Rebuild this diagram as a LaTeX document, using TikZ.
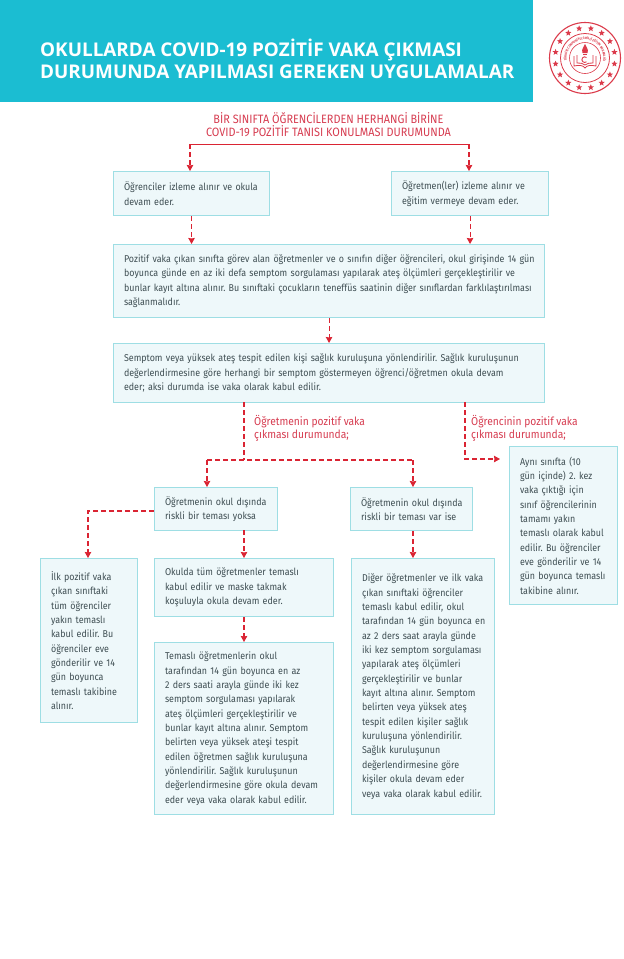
\documentclass[tikz,border=0pt]{standalone}
\usepackage{fontspec}
\usetikzlibrary{arrows.meta,calc,shapes.geometric,decorations.text}
\setmainfont[FakeStretch=0.90]{Fira Sans}
\newfontfamily\headfont{Open Sans}
\definecolor{headcol}{HTML}{1BBDD2}
\definecolor{edgecol}{HTML}{9EDEE4}
\definecolor{fillcol}{HTML}{EEF8FA}
\definecolor{bodycol}{HTML}{3F4E53}
\definecolor{redtext}{HTML}{D63C50}
\definecolor{redline}{HTML}{DA2433}
\definecolor{logocol}{HTML}{DB3A4A}
\frenchspacing
\tikzset{
  x=1pt,y=1pt,
  infobox/.style={draw=edgecol,fill=fillcol,line width=1.1pt,anchor=north west,inner xsep=10.5pt,inner ysep=0pt,
    align=left,font=\fontsize{9.9}{14.35}\selectfont,text=bodycol,text width=#1-21pt,
    execute at begin node={\rightskip=-15pt plus 1fil\relax}},
  redlabel/.style={text=redtext,align=left,anchor=north west,inner sep=0pt,font=\fontsize{11.4}{13}\selectfont},
  dashline/.style={draw=redline,line width=1.1pt,dash pattern=on 5pt off 3pt},
  flowarrow/.style={dashline,-{Stealth[length=6pt,width=6.5pt,inset=0.5pt]}},
  solidline/.style={draw=redline,line width=0.8pt},
  logoline/.style={draw=logocol,line width=0.8pt},
  logostar/.style={star,star points=5,star point ratio=2.3,fill=logocol,inner sep=0pt,minimum size=6.5pt},
}
\begin{document}
\begin{tikzpicture}
\useasboundingbox (0,0) rectangle (624,-959);
% header
\fill[headcol] (0,0) rectangle (533,-102);
\node[anchor=west,inner sep=0pt,text=white,align=left,font=\headfont\bfseries\fontsize{18.9}{22}\selectfont] (head) at (40,-58.5)
  {OKULLARDA COVID-19 POZİTİF VAKA ÇIKMASI\\DURUMUNDA YAPILMASI GEREKEN UYGULAMALAR};
% logo
\coordinate (lc) at (585,-58);
\draw[logoline,line width=1.1pt] (lc) circle[radius=35.5];
\draw[logoline] (lc) circle[radius=24.5];
\draw[logoline,line width=0.6pt] (lc) circle[radius=15.5];
\foreach \i in {0,...,15} {\node[logostar] (st\i) at ($(lc)+(11.25+22.5*\i:30)$) {};}
\path[decorate,decoration={text along path,text align=center,
  text={|\fontsize{3.3}{4}\selectfont\bfseries\color{logocol}|TÜRKİYE CUMHURİYETİ MİLLÎ EĞİTİM BAKANLIĞI}}]
  ($(lc)+(235:18.3)$) arc[start angle=235,end angle=-55,radius=18.3];
\fill[logocol] ($(lc)+(-2.5,5)$) .. controls ($(lc)+(-4,9)$) and ($(lc)+(-1,11)$) .. ($(lc)+(0,14)$) .. controls ($(lc)+(1,11)$) and ($(lc)+(4,9)$) .. ($(lc)+(2.5,5)$) -- cycle;
\fill[logocol] ($(lc)+(-2,4.2)$) rectangle ($(lc)+(2,3)$);
\draw[logoline] ($(lc)+(-11,2)$) -- ($(lc)+(-11,-8)$) .. controls ($(lc)+(-6,-7)$) and ($(lc)+(-2,-7)$) .. ($(lc)+(0,-10)$) .. controls ($(lc)+(2,-7)$) and ($(lc)+(6,-7)$) .. ($(lc)+(11,-8)$) -- ($(lc)+(11,2)$);
\draw[logoline] ($(lc)+(-8,3)$) -- ($(lc)+(-8,-5)$) .. controls ($(lc)+(-5,-5)$) and ($(lc)+(-2,-5)$) .. ($(lc)+(0,-7)$) .. controls ($(lc)+(2,-5)$) and ($(lc)+(5,-5)$) .. ($(lc)+(8,-5)$) -- ($(lc)+(8,3)$);
\draw[logoline,line width=0.9pt] ($(lc)+(1.5,0.5)$) arc[start angle=50,end angle=310,radius=2.8];
% title
\node[text=redtext,align=center,inner sep=0pt,font=\fontsize{12.1}{13.4}\selectfont] (title) at (328.5,-124.5)
  {BİR SINIFTA ÖĞRENCİLERDEN HERHANGİ BİRİNE\\COVID-19 POZİTİF TANISI KONULMASI DURUMUNDA};
% boxes
\node[infobox=156pt,minimum height=44pt] (ogr) at (113,-171) {Öğrenciler izleme alınır ve okula\\devam eder.};
\node[infobox=157pt,minimum height=44pt] (ogt) at (391,-171) {Öğretmen(ler) izleme alınır ve\\eğitim vermeye devam eder.};
\node[infobox=431pt,minimum height=73pt] (poz) at (113,-244) {Pozitif vaka çıkan sınıfta görev alan öğretmenler ve o sınıfın diğer öğrencileri, okul girişinde 14 gün\\boyunca günde en az iki defa semptom sorgulaması yapılarak ateş ölçümleri gerçekleştirilir ve\\bunlar kayıt altına alınır. Bu sınıftaki çocukların teneffüs saatinin diğer sınıflardan farklılaştırılması\\sağlanmalıdır.};
\node[infobox=431pt,minimum height=59pt] (sem) at (113,-343) {Semptom veya yüksek ateş tespit edilen kişi sağlık kuruluşuna yönlendirilir. Sağlık kuruluşunun\\değerlendirmesine göre herhangi bir semptom göstermeyen öğrenci/öğretmen okula devam\\eder; aksi durumda ise vaka olarak kabul edilir.};
\node[infobox=108pt,minimum height=158pt] (ayni) at (509,-446) {Aynı sınıfta (10\\gün içinde) 2. kez\\vaka çıktığı için\\sınıf öğrencilerinin\\tamamı yakın\\temaslı olarak kabul\\edilir. Bu öğrenciler\\eve gönderilir ve 14\\gün boyunca temaslı\\takibine alınır.};
\node[infobox=123pt,minimum height=43pt] (yok) at (154,-487) {Öğretmenin okul dışında\\riskli bir teması yoksa};
\node[infobox=122pt,minimum height=43pt] (var) at (350,-487) {Öğretmenin okul dışında\\riskli bir teması var ise};
\node[infobox=97pt,minimum height=164pt] (ilk) at (40,-558) {İlk pozitif vaka\\çıkan sınıftaki\\tüm öğrenciler\\yakın temaslı\\kabul edilir. Bu\\öğrenciler eve\\gönderilir ve 14\\gün boyunca\\temaslı takibine\\alınır.};
\node[infobox=179pt,minimum height=58pt] (oku) at (154,-558) {Okulda tüm öğretmenler temaslı\\kabul edilir ve maske takmak\\koşuluyla okula devam eder.};
\node[infobox=179pt,minimum height=172pt] (tem) at (154,-642) {Temaslı öğretmenlerin okul\\tarafından 14 gün boyunca en az\\2 ders saati arayla günde iki kez\\semptom sorgulaması yapılarak\\ateş ölçümleri gerçekleştirilir ve\\bunlar kayıt altına alınır. Semptom\\belirten veya yüksek ateşi tespit\\edilen öğretmen sağlık kuruluşuna\\yönlendirilir. Sağlık kuruluşunun\\değerlendirmesine göre okula devam\\eder veya vaka olarak kabul edilir.};
\node[infobox=143pt,minimum height=256pt] (dig) at (351,-558) {Diğer öğretmenler ve ilk vaka\\çıkan sınıftaki öğrenciler\\temaslı kabul edilir, okul\\tarafından 14 gün boyunca en\\az 2 ders saat arayla günde\\iki kez semptom sorgulaması\\yapılarak ateş ölçümleri\\gerçekleştirilir ve bunlar\\kayıt altına alınır. Semptom\\belirten veya yüksek ateş\\tespit edilen kişiler sağlık\\kuruluşuna yönlendirilir.\\Sağlık kuruluşunun\\değerlendirmesine göre\\kişiler okula devam eder\\veya vaka olarak kabul edilir.\\[5pt]};
% branch labels
\node[redlabel] (lab1) at (254,-415) {Öğretmenin pozitif vaka\\çıkması durumunda;};
\node[redlabel] (lab2) at (471,-415) {Öğrencinin pozitif vaka\\çıkması durumunda;};
% junction points
\coordinate (bl) at (190,-144);
\coordinate (br) at (469,-144);
\coordinate (ta) at (244,-402);
\coordinate (tb) at (244,-460);
\coordinate (tl) at (207,-460);
\coordinate (tr) at (413,-460);
\coordinate (sa) at (465,-402);
\coordinate (sb) at (465,-459);
\coordinate (sc) at (500,-459);
\coordinate (ya) at (88,-511);
\coordinate (ye) at (244,-530);
% connectors
\draw[solidline] (bl) -- (br);
\draw[flowarrow] (bl) -- (bl |- ogr.north);
\draw[flowarrow] (br) -- (br |- ogt.north);
\draw[flowarrow] (ogr.south) -- (ogr.south |- poz.north);
\draw[flowarrow] (ogt.south) -- (ogt.south |- poz.north);
\draw[flowarrow] (poz.south) -- (sem.north);
\draw[dashline] (ta) -- (tb);
\draw[dashline] (tl) -- (tr);
\draw[flowarrow] (tl) -- (tl |- yok.north);
\draw[flowarrow] (tr) -- (tr |- var.north);
\draw[flowarrow] (sa) -- (sb) -- (sc);
\draw[flowarrow] (yok.west |- ya) -- (ya) -- (ya |- ilk.north);
\draw[flowarrow] (ye) -- (ye |- oku.north);
\draw[flowarrow] (ye |- oku.south) -- (ye |- tem.north);
\draw[flowarrow] (var.south -| tr) -- (tr |- dig.north);
\end{tikzpicture}
\end{document}
